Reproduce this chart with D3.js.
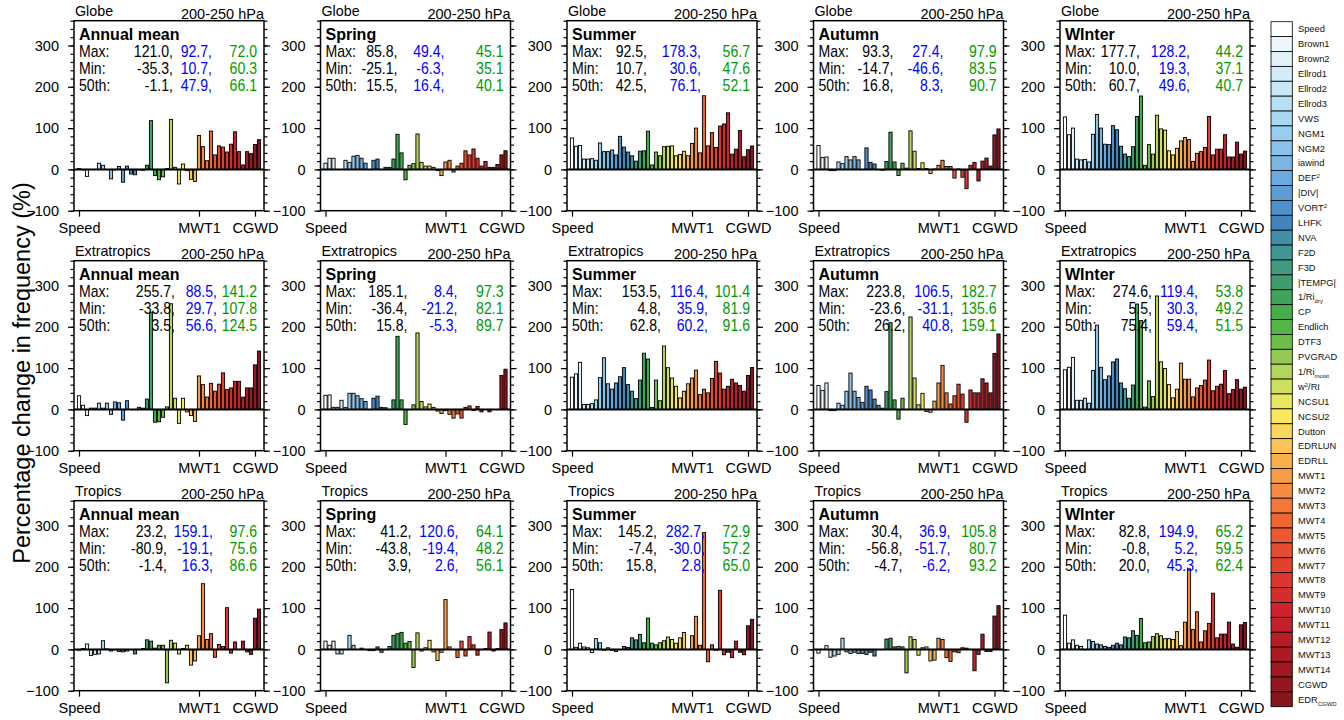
<!DOCTYPE html>
<html>
<head>
<meta charset="utf-8">
<script src="https://cdn.jsdelivr.net/npm/d3@7/dist/d3.min.js"></script>
<style>
  body { margin: 0; background: #fff; }
  text { font-family: "Liberation Sans", Arial, Helvetica, sans-serif; }
</style>
</head>
<body>
<svg id="chart" width="1344" height="720"></svg>
<script>
// ---- data ----
const regions = ["Globe", "Extratropics", "Tropics"];
const seasons = ["Annual mean", "Spring", "Summer", "Autumn", "WInter"];
const indexNames = ["Speed", "Brown1", "Brown2", "Ellrod1", "Ellrod2", "Ellrod3", "VWS", "NGM1", "NGM2",
  "iawind", "DEF^2", "|DIV|", "VORT^2", "LHFK", "NVA", "F2D", "F3D", "|TEMPG|", "1/Ri_dry", "CP",
  "Endlich", "DTF3", "PVGRAD", "1/Ri_moist", "w^2/RI", "NCSU1", "NCSU2", "Dutton", "EDRLUN", "EDRLL",
  "MWT1", "MWT2", "MWT3", "MWT4", "MWT5", "MWT6", "MWT7", "MWT8", "MWT9", "MWT10", "MWT11", "MWT12",
  "MWT13", "MWT14", "CGWD", "EDR_CGWD"];
const indexColors = ["#ffffff", "#eef6fc", "#e2f1fa", "#d4ecf8", "#c6e7f6", "#b5e0f5", "#a6d8f2", "#97cdef",
  "#88c2ea", "#79b6e4", "#6aaade", "#5c9dd6", "#4f8fcd", "#4483bd", "#418ea6", "#419594", "#3e9a80",
  "#3c9c6c", "#3fa45a", "#43ad4a", "#53b546", "#6cbe48", "#93c950", "#b2d55a", "#cfdf5f", "#e6e65f",
  "#fbe75c", "#fad65a", "#f9c455", "#f8b04d", "#f69c47", "#f58a40", "#f37838", "#ef6731", "#ec592f",
  "#e84c2e", "#e4412d", "#de362d", "#d72c2c", "#d0212c", "#c41f2a", "#b81c27", "#ac1a24", "#a11822",
  "#94161f", "#88141c"];
const xTickIdx = [0, 30, 44];
const yTicks = [300, 200, 100, 0, -100];
const levelLabel = "200-250 hPa";
const yTitle = "Percentage change in frequency (%)";

// Globe
const globeAnnual = [2, -1, -17, 0, 0, 15, 10, 0, -23, -1, 7, -31, 8, -11, -13, -1, -2, 10, 118, -15, -25, -18, 2, 121, 5, -35.3, 13, -3, -24, -29, 82, 55, 21, 92.7, 35, 57, 54, 42, 61, 91, 43, 10.7, 43, 38, 60.3, 72.0];
const globeSpring = [15, 27, 27, 0, 0, 22, 17, 32, 34, 27, 15, 0, 22, 25, 0, 5, 5, 25, 85, 40, -25.1, 10, 14, 85.8, 17, 8, 8, 5, -3, -15, 18, 22, -6.3, 8, 15, 45, 35, 49.4, 27, 8, 19, 5, 5, 12, 35.1, 45.1];
const globeSummer = [76, 56, 58, 25, 25, 26, 22, 64, 43, 43, 47, 35, 80, 54, 42, 33, 20, 44, 45, 92.5, 10.7, 42, 33, 55, 56, 57, 33, 36, 44, 33, 63, 100, 40, 178.3, 57, 89, 53, 105, 110, 137, 37, 49, 94, 30.6, 47.6, 56.7];
const globeAutumn = [58, 29, 30, -3, -3, 18, 14, 31, 23, 31, 23, 0, 52, 17, 13, 0, -2, 19, 90, 18, -14.7, 15, 3, 93.3, 44, 2, 16, 2, -10, 1, 10, 22, 7, 7, -21, 1, -19, -46.6, 10, 17, -28, 20, 27.4, 8, 83.5, 97.9];
const globeWinter = [127, 84, 100, 25, 23, 24, 18, 85, 133, 100, 61, 60, 106, 96, 56, 37, 31, 55, 128, 177.7, 10.0, 60, 37, 131, 98, 95, 45, 35, 51, 69, 77, 72, 19.3, 39, 43, 53, 128.2, 35, 49, 49, 84, 30, 30, 66, 37.1, 44.2];
// Extratropics
const extraAnnual = [33, 10, -15, 3, 3, 15, 3, 15, -12, 18, 16, -26, 21, 0, 0, 5, 3, 25, 235, -31, -30, -19, 6, 255.7, 27, -33.8, 27, -6, -15, -29, 81, 60, 30, 63, 44, 61, 88.5, 48, 52, 68, 68, 29.7, 52, 52, 107.8, 141.2];
const extraSpring = [34, 35, 5, 5, 22, 5, 39, 39, 33, 26, 19, 0, 27, 32, 5, 4, 0, 23, 177, 23, -36.4, 0, 11, 185.1, 19, 6, 13, 5, -4, -10, -3, -12, -21.2, -11, -21, 5, 8.4, -3, 7, -6, 0, -6, 0, 0, 82.1, 97.3];
const extraSummer = [78, 86, 114, 12, 12, 14, 23, 77, 125, 62, 49, 64, 79, 101, 60, 44, 26, 71, 136, 122, 4.8, 71, 21, 153.5, 101, 76, 56, 28, 44, 62, 76, 95, 35.9, 49, 40, 75, 116.4, 88, 49, 56, 73, 64, 58, 44, 81.9, 101.4];
const extraAutumn = [58, 46, 64, -3, -3, 15, 10, 44, 88, 44, 29, 17, 56, 47, 25, 10, 3, 43, 210, 23, -23.6, 27, 0, 223.8, 76, 11, 39, -5, -7, 20, 64, 106.5, 40, 13, 33, 61, 37, -31.1, 47, 40, 40, 74, 64, 40, 135.6, 182.7];
const extraWinter = [96, 102, 126, 22, 22, 27, 15, 94, 204, 102, 72, 81, 115, 122, 64, 50, 27, 59, 255, 215, 5.5, 69, 31, 274.6, 115, 99, 60, 28, 49, 112, 73, 73, 30.3, 52, 58, 71, 119.4, 45, 56, 61, 94, 38, 48, 72, 49.2, 53.8];
// Tropics
const tropAnnual = [-2, 2, 13, -15, -12, -11, 21, 1, -4, -1, -5, -6, -4, 0, -11, 0, 2, 23.2, 20, 3, 10, 10, -80.9, 22, 15, -11, 2, 10, -38, -28, 33, 159.1, 24, 38, -19.1, 12, 7, 101, -9, 18, 0, 20, -6, -12, 75.6, 97.6];
const tropSpring = [20, 10, 20, -11, -11, 0, 34, 10, 0, 3, 0, -3, -3, 6, -7, 0, 7, 34, 38, 41.2, 15, 19, -43.8, 40, -4, 4, 22, -6, -27, -7, 120.6, 6, 0, -19.4, 20, -16, 31, 11, -14, 0, 2, 42, -4, 2, 48.2, 64.1];
const tropSummer = [145.2, 5, 15, 6, 4, -7.4, 26, 16, -2, 4, -2, -5, 0, 7, 5, 28, 23, 36, 16, 76, 15, 11, 16, 21, 30, 24, 15, 28, 41, 0, 33, 80, 10, 282.7, -30.0, 11, -2, 143, -13, -7, -20, 20, -7, -13, 57.2, 72.9];
const tropAutumn = [-9, 0, 9, -19, -16, -12, 27, -6, -10, -7, -10, -10, -12, -7, -16, 0, 0, 25, 27, 6, 7, 6, -56.8, 30.4, 24, -14, 4, 6, -28, -26, 27, 24, -20, -29, -6, -8, 4, 3, 0, -51.7, -12, 36.9, -5, -5, 80.7, 105.8];
const tropWinter = [82.8, 15, 23, 10, 7, -0.8, 23, 19, 13, 11, 7, 5, 10, 15, 11, 30, 28, 45, 34, 75, 16, 18, 31, 38, 33, 26, 26, 24, 43, 9, 66, 194.9, 48, 91, 18, 45, 63, 136, 28, 37, 37, 66, 13, 5.2, 59.5, 65.2];

// printed statistics [all other indices, MWT1-14, CGWD/EDR]
const globeMax = [[121.0, 92.7, 72.0], [85.8, 49.4, 45.1], [92.5, 178.3, 56.7], [93.3, 27.4, 97.9], [177.7, 128.2, 44.2]];
const globeMin = [[-35.3, 10.7, 60.3], [-25.1, -6.3, 35.1], [10.7, 30.6, 47.6], [-14.7, -46.6, 83.5], [10.0, 19.3, 37.1]];
const globeMed = [[-1.1, 47.9, 66.1], [15.5, 16.4, 40.1], [42.5, 76.1, 52.1], [16.8, 8.3, 90.7], [60.7, 49.6, 40.7]];
const extraMax = [[255.7, 88.5, 141.2], [185.1, 8.4, 97.3], [153.5, 116.4, 101.4], [223.8, 106.5, 182.7], [274.6, 119.4, 53.8]];
const extraMin = [[-33.8, 29.7, 107.8], [-36.4, -21.2, 82.1], [4.8, 35.9, 81.9], [-23.6, -31.1, 135.6], [5.5, 30.3, 49.2]];
const extraMed = [[3.5, 56.6, 124.5], [15.8, -5.3, 89.7], [62.8, 60.2, 91.6], [26.2, 40.8, 159.1], [75.4, 59.4, 51.5]];
const tropMax = [[23.2, 159.1, 97.6], [41.2, 120.6, 64.1], [145.2, 282.7, 72.9], [30.4, 36.9, 105.8], [82.8, 194.9, 65.2]];
const tropMin = [[-80.9, -19.1, 75.6], [-43.8, -19.4, 48.2], [-7.4, -30.0, 57.2], [-56.8, -51.7, 80.7], [-0.8, 5.2, 59.5]];
const tropMed = [[-1.4, 16.3, 86.6], [3.9, 2.6, 56.1], [15.8, 2.8, 65.0], [-4.7, -6.2, 93.2], [20.0, 45.3, 62.4]];

const panelValues = [
  [globeAnnual, globeSpring, globeSummer, globeAutumn, globeWinter],
  [extraAnnual, extraSpring, extraSummer, extraAutumn, extraWinter],
  [tropAnnual, tropSpring, tropSummer, tropAutumn, tropWinter]
];
const panelStats = [
  [["Max:", globeMax], ["Min:", globeMin], ["50th:", globeMed]],
  [["Max:", extraMax], ["Min:", extraMin], ["50th:", extraMed]],
  [["Max:", tropMax], ["Min:", tropMin], ["50th:", tropMed]]
];

// ---- layout ----
const W = 190, H = 190;
const left0 = 74, top0 = 20.7, dx = 246.5, dy = 240;
// right edge of the black and blue numbers inside each panel
const statCols = [
  [[99, 138], [77, 124], [80, 134], [80, 130], [80, 130]],
  [[101, 143], [87, 137], [94, 141], [92, 140], [92, 138]],
  [[93, 139], [91, 138], [90, 138], [89, 137], [90, 138]]
];
const statColors = ["#000", "#0000ff", "#009900"];
const narrow = 0.88; // the figure's text is a little condensed

const svg = d3.select("#chart");

const x = d3.scaleLinear().domain([-1.25, 46.25]).range([0, W]);
const y = d3.scaleLinear().domain([-100, 360]).range([H, 0]);
const barW = 3.2;

// write a label with ^sup / _sub parts
let richText = function (sel, label, subSize) {
  let parts = label.split(/(\^[0-9]+|_[A-Za-z]+)/).filter(p => p !== "");
  parts.forEach(function (p) {
    if (p[0] === "^") {
      sel.append("tspan").attr("baseline-shift", "super").attr("font-size", subSize).text(p.slice(1));
    } else if (p[0] === "_") {
      sel.append("tspan").attr("baseline-shift", "sub").attr("font-size", subSize).text(p.slice(1));
    } else {
      sel.append("tspan").text(p);
    }
  });
};

// condensed text placed at (px, py)
let narrowText = function (parent, px, py, str) {
  return parent.append("text")
    .attr("transform", "translate(" + px + "," + py + ") scale(" + narrow + ",1)")
    .text(str);
};

regions.forEach(function (region, r) {
  seasons.forEach(function (season, c) {
    const g = svg.append("g")
      .attr("transform", "translate(" + (left0 + dx * c) + "," + (top0 + dy * r) + ")");
    const vals = panelValues[r][c];

    // bars
    g.selectAll("rect.bar")
      .data(vals)
      .enter().append("rect")
      .attr("class", "bar")
      .attr("x", (d, i) => x(i) - barW / 2)
      .attr("width", barW)
      .attr("y", d => y(Math.max(0, d)))
      .attr("height", d => Math.abs(y(d) - y(0)))
      .attr("fill", (d, i) => indexColors[i])
      .attr("stroke", "#000")
      .attr("stroke-width", 0.9);

    // zero line
    g.append("line")
      .attr("x1", 0).attr("x2", W)
      .attr("y1", y(0)).attr("y2", y(0))
      .attr("stroke", "#000").attr("stroke-width", 2);

    // axes: left labelled, minor ticks, right mirror, bottom
    let yl = g.append("g")
      .call(d3.axisLeft(y).tickValues(yTicks).tickSize(6).tickPadding(9).tickFormat(d3.format("d")));
    yl.selectAll("text").attr("font-size", 14.5).attr("fill", "#000");
    g.append("g").call(d3.axisLeft(y).tickValues(d3.range(-100, 361, 20)).tickSize(3.5).tickFormat(""));
    g.append("g").attr("transform", "translate(" + W + ",0)")
      .call(d3.axisRight(y).tickValues(yTicks).tickSize(6).tickFormat(""));
    g.append("g").attr("transform", "translate(" + W + ",0)")
      .call(d3.axisRight(y).tickValues(d3.range(-100, 361, 20)).tickSize(3.5).tickFormat(""));
    let xb = g.append("g").attr("transform", "translate(0," + H + ")")
      .call(d3.axisBottom(x).tickValues(xTickIdx).tickSize(6).tickPadding(6.5).tickFormat(i => indexNames[i]));
    xb.selectAll("text").attr("font-size", 14.5).attr("fill", "#000");
    g.selectAll(".domain").remove();
    g.selectAll(".tick line").attr("stroke", "#000").attr("stroke-width", 1.2);

    // frame
    g.append("rect")
      .attr("width", W).attr("height", H)
      .attr("fill", "none").attr("stroke", "#000").attr("stroke-width", 1.5);

    // titles above the frame
    g.append("text").attr("x", 1).attr("y", -4.5)
      .attr("font-size", 14.3).text(region);
    g.append("text").attr("x", W).attr("y", -1.5)
      .attr("text-anchor", "end").attr("font-size", 14.5).text(levelLabel);

    // season and statistics
    g.append("text").attr("x", 5).attr("y", 19)
      .attr("font-size", 16).attr("font-weight", "bold").text(season);

    const cols = statCols[r][c];
    const rights = [cols[0], cols[1], 183];
    panelStats[r].forEach(function (row, k) {
      const yy = 36.5 + 16.7 * k;
      narrowText(g, 5, yy, row[0]).attr("font-size", 16);
      row[1][c].forEach(function (v, j) {
        narrowText(g, rights[j], yy, v.toFixed(1) + (j < 2 ? "," : ""))
          .attr("text-anchor", "end")
          .attr("font-size", 16)
          .attr("fill", statColors[j]);
      });
    });
  });
});

// y-axis title
svg.append("text")
  .attr("transform", "translate(30,373) rotate(-90)")
  .attr("text-anchor", "middle")
  .attr("font-size", 23.5)
  .text(yTitle);

// legend
const legY = d3.scaleBand().domain(d3.range(indexNames.length)).range([21.7, 706.7]).padding(0);
const leg = svg.append("g");
leg.selectAll("rect")
  .data(indexNames)
  .enter().append("rect")
  .attr("x", 1271)
  .attr("y", (d, i) => legY(i))
  .attr("width", 21.3)
  .attr("height", legY.bandwidth())
  .attr("fill", (d, i) => indexColors[i])
  .attr("stroke", "#000")
  .attr("stroke-width", 0.8);
leg.selectAll("text")
  .data(indexNames)
  .enter().append("text")
  .attr("x", 1298)
  .attr("y", (d, i) => legY(i) + legY.bandwidth() / 2 + 3.3)
  .attr("font-size", 9.3)
  .attr("fill", "#111")
  .each(function (d) { richText(d3.select(this), d, 6); });
</script>
</body>
</html>
